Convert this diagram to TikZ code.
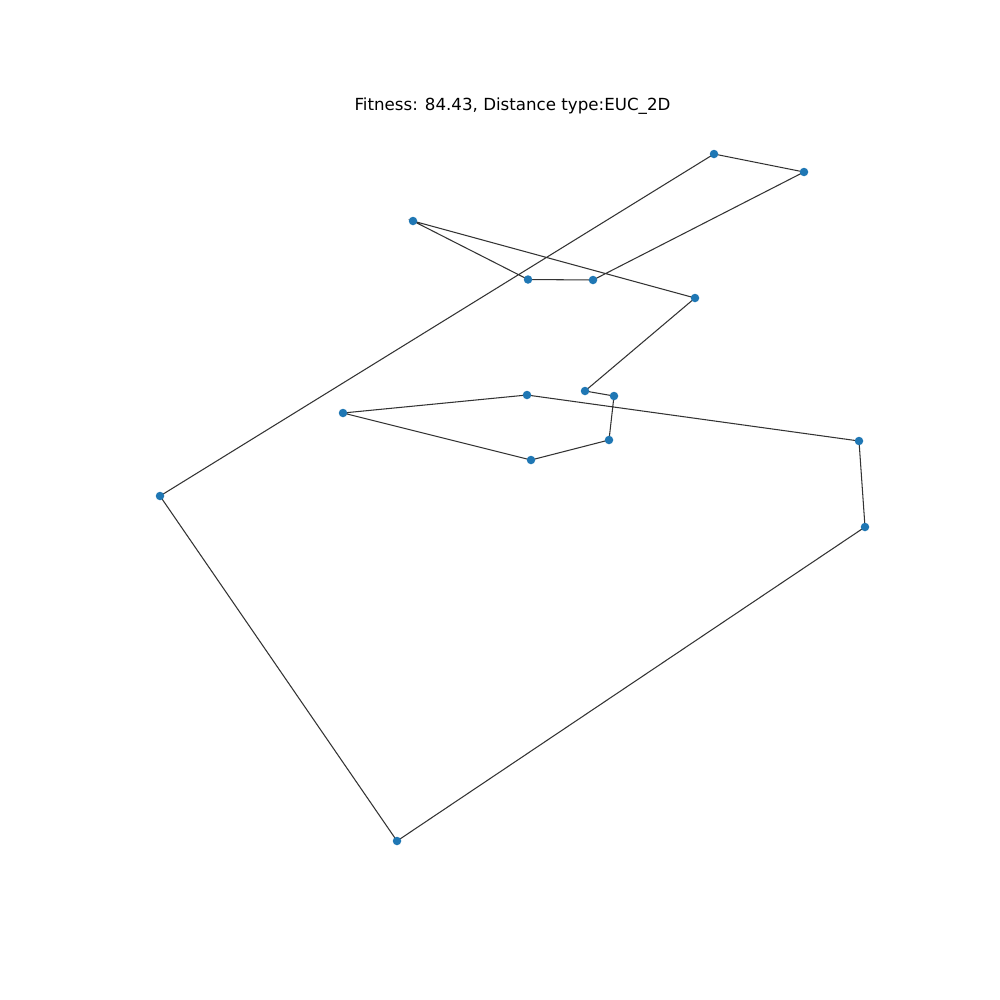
\documentclass[tikz,border=0pt]{standalone}
\usepackage{fontspec}
\setmainfont{DejaVu Sans}
\definecolor{dotblue}{HTML}{1F77B4}
\begin{document}
\begin{tikzpicture}[x=0.01cm,y=-0.01cm,
  city/.style={circle,fill=dotblue,inner sep=0pt,minimum size=8.5pt*0.2845},
  tour/.style={black!80,line width=0.3pt}]
\useasboundingbox (0,0) rectangle (1000,1000);
\fill[white] (0,0) rectangle (1000,1000);
\node[font=\fontsize{4.74pt}{5.7pt}\selectfont] (title) at (512.5,106) {Fitness: 84.43, Distance type:EUC\_2D};
\coordinate (A) at (714,154);
\coordinate (B) at (804,172);
\coordinate (C) at (413,221);
\coordinate (D) at (528,279.5);
\coordinate (E) at (593,280);
\coordinate (F) at (695,298);
\coordinate (G) at (585,391);
\coordinate (H) at (614,396);
\coordinate (I) at (527,395);
\coordinate (J) at (343,413);
\coordinate (K) at (609,440);
\coordinate (L) at (531,460);
\coordinate (M) at (859,441);
\coordinate (N) at (865,527);
\coordinate (O) at (160,496);
\coordinate (P) at (397,841);
\draw[tour] (A) -- (B) -- (E) -- (D) -- (C) -- (F) -- (G) -- (H) -- (K) -- (L) -- (J) -- (I) -- (M) -- (N) -- (P) -- (O) -- cycle;
\foreach \c in {A,B,C,D,E,F,G,H,I,J,K,L,M,N,O,P}
  \node[city] (n\c) at (\c) {};
\end{tikzpicture}
\end{document}
